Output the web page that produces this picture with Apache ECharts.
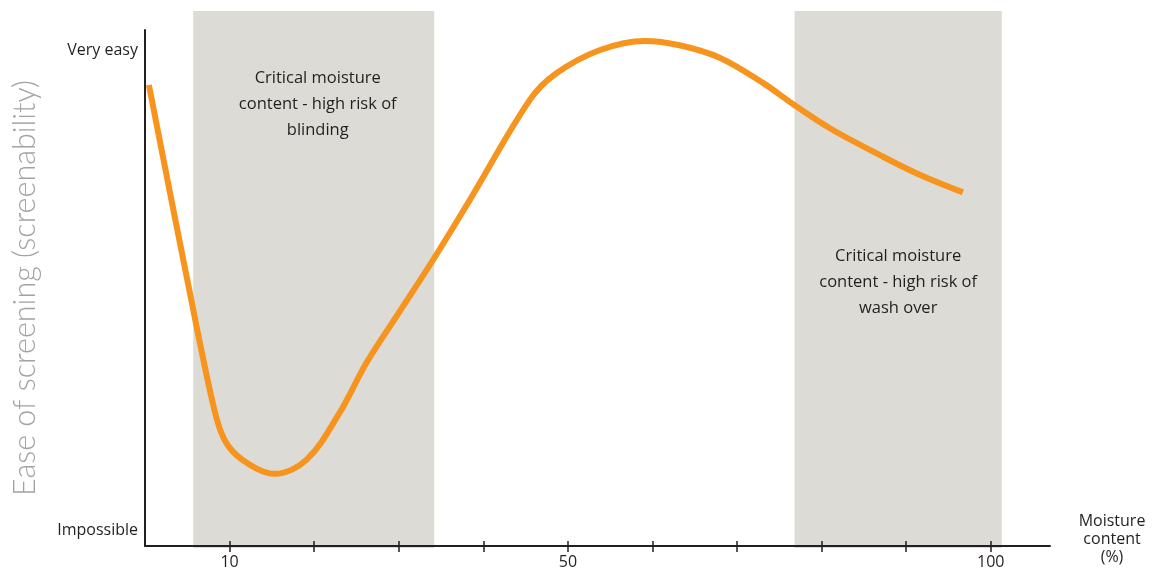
<!DOCTYPE html>
<html>
<head>
<meta charset="utf-8">
<script src="https://cdn.jsdelivr.net/npm/echarts@6/dist/echarts.min.js"></script>
<style>
  html, body { margin: 0; padding: 0; background: #fff; }
  #chart { width: 1153px; height: 575px; }
</style>
</head>
<body>
<div id="chart"></div>
<script>
// ---- Data ----
const moisture = [0.46, 5.0, 8.11, 9.41, 11.54, 15.33, 19.08, 23.0, 26.17, 30.1, 34.05, 38.4, 45.5, 48.6, 53.8, 59.1, 63.2, 67.95, 73.1, 76.8, 80.97, 86.9, 91.6, 96.7];
const screenability = [92.7, 52.1, 25.7, 18.75, 14.6, 11.7, 14.6, 24.4, 34.8, 45.5, 56.25, 68.75, 89.6, 95.1, 100, 101.9, 101.0, 98.4, 93.1, 88.5, 83.7, 78.1, 74.0, 70.35];
const blindingZone = [5.7, 34.2];
const washOverZone = [76.8, 101.3];
const zoneLabels = ['Critical moisture\ncontent - high risk of\nblinding', 'Critical moisture\ncontent - high risk of\nwash over'];
const xTickValues = [10, 20, 30, 40, 50, 60, 70, 80, 90, 100];
const xLabelValues = [10, 50, 100];
const yLabelValues = [0, 100];
const yLabelText = { 0: 'Impossible', 100: 'Very easy' };
const xName = 'Moisture\ncontent\n(%)';
const yName = 'Ease of screening (screenability)';

const FONT = '"Open Sans", "Lato", sans-serif';
const TXT = '#231f20';

const chart = echarts.init(document.getElementById('chart'), null, { renderer: 'canvas' });
const xMin = 0, xMax = 107;

chart.setOption({
  animation: false,
  backgroundColor: '#ffffff',
  grid: [
    { left: 145, right: 103, top: 11, bottom: 27, containLabel: false, outerBoundsMode: 'none' },
    { left: 145, right: 103, top: 30, bottom: 29, containLabel: false, outerBoundsMode: 'none' }
  ],
  xAxis: [
    { gridIndex: 0, type: 'value', min: xMin, max: xMax, show: false },
    {
      gridIndex: 1, type: 'value', min: xMin, max: xMax, z: 10,
      splitLine: { show: false },
      axisLine: { onZero: false, lineStyle: { color: TXT, width: 2 } },
      axisTick: { show: true, customValues: xTickValues, length: 6, lineStyle: { color: TXT, width: 1.5 } },
      axisLabel: {
        customValues: xLabelValues, color: TXT, fontFamily: FONT, fontSize: 16, margin: 8
      }
    },
    {
      gridIndex: 1, type: 'value', min: xMin, max: xMax, position: 'bottom', z: 10,
      splitLine: { show: false },
      axisLine: { show: false, onZero: false },
      axisLabel: { show: false },
      axisTick: { show: true, inside: true, customValues: xTickValues, length: 5, lineStyle: { color: TXT, width: 1.5 } }
    },
    {
      gridIndex: 1, type: 'value', min: xMin, max: xMax, position: 'bottom', offset: -7, z: 10,
      splitLine: { show: false },
      axisLine: { show: false, onZero: false },
      axisLabel: { show: false },
      axisTick: { show: false },
      name: xName,
      nameLocation: 'end',
      nameGap: 62,
      nameTextStyle: { color: TXT, fontFamily: FONT, fontSize: 16, lineHeight: 18, align: 'center', verticalAlign: 'middle' }
    }
  ],
  yAxis: [
    { gridIndex: 0, type: 'value', min: 0, max: 1, show: false },
    {
      gridIndex: 1, type: 'value', min: -3.3333, max: 104.1667, z: 10,
      splitLine: { show: false },
      axisLine: { show: true, onZero: false, lineStyle: { color: TXT, width: 2 } },
      axisTick: { show: false },
      axisLabel: {
        customValues: yLabelValues,
        formatter: v => yLabelText[Math.round(v)] || '',
        color: TXT, fontFamily: FONT, fontSize: 16, margin: 7
      },
      name: yName,
      nameLocation: 'middle',
      nameGap: 104,
      nameRotate: 90,
      nameTextStyle: { color: '#a3a3a3', fontFamily: '"Lato", "Open Sans", sans-serif', fontWeight: 300, fontSize: 30.5 }
    }
  ],
  series: [
    {
      type: 'line', xAxisIndex: 0, yAxisIndex: 0,
      data: [], silent: true, z: 1,
      markArea: {
        silent: true,
        itemStyle: { color: '#dcdbd6' },
        label: {
          show: true, position: 'insideTop', color: TXT, fontFamily: FONT,
          fontSize: 16.5, lineHeight: 26, align: 'center'
        },
        data: [
          [{ xAxis: blindingZone[0], label: { distance: 54, offset: [4, 0] }, name: zoneLabels[0] }, { xAxis: blindingZone[1] }],
          [{ xAxis: washOverZone[0], label: { distance: 232 }, name: zoneLabels[1] }, { xAxis: washOverZone[1] }]
        ]
      }
    },
    {
      type: 'line', xAxisIndex: 1, yAxisIndex: 1,
      data: moisture.map((m, i) => [m, screenability[i]]),
      smooth: 0.35,
      symbol: 'none',
      lineStyle: { color: '#f7941d', width: 6, cap: 'butt', join: 'round' },
      z: 5
    }
  ]
});
</script>
</body>
</html>
